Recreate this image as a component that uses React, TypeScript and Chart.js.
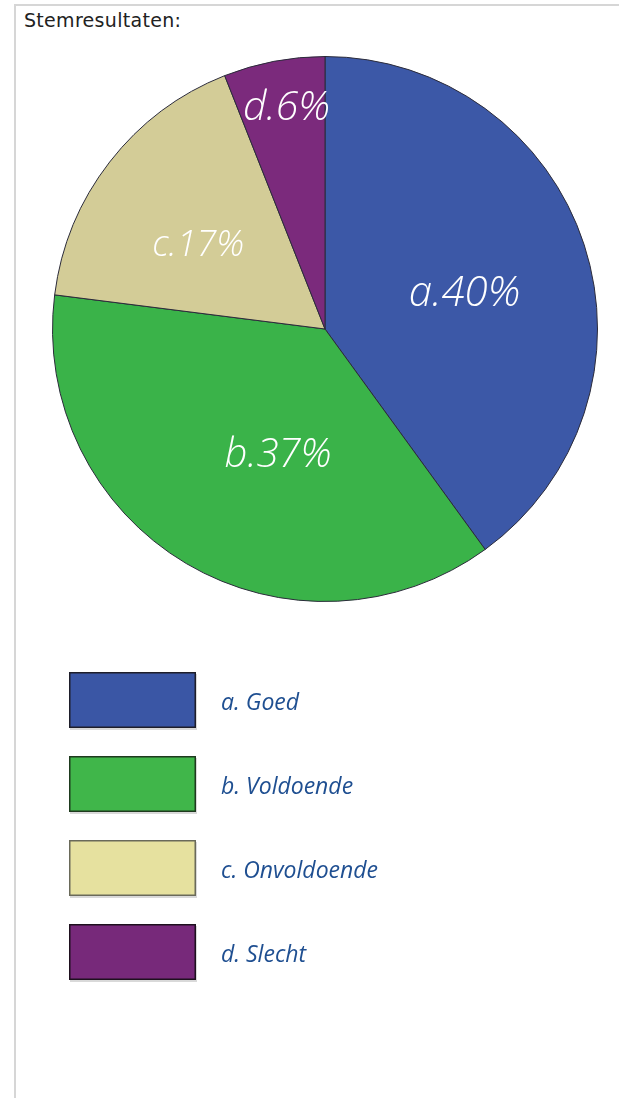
import React, { useEffect, useRef } from "react";
import { Chart, registerables } from "chart.js";

Chart.register(...registerables);

const categories = ["a. Goed", "b. Voldoende", "c. Onvoldoende", "d. Slecht"];
const shortLabels = ["a", "b", "c", "d"];
const values = [40, 37, 17, 6];
const sliceColors = ["#3c58a7", "#3ab349", "#d3cc97", "#7b2a7c"];
const legendColors = ["#3a56a5", "#40b64a", "#e6e19f", "#77297a"];
const legendBorders = ["#1e1e2a", "#1e3a1e", "#6a6a5a", "#1e101e"];

// label placement relative to each slice (radius fraction, angle offset in degrees, font size)
const labelPlacement = [
  { r: 0.53, dA: 3, size: 42 },
  { r: 0.49, dA: -10, size: 40 },
  { r: 0.56, dA: -4, size: 36 },
  { r: 0.83, dA: 1, size: 41 },
];

const sliceLabelPlugin = {
  id: "sliceLabels",
  afterDatasetsDraw(chart: any) {
    const ctx = chart.ctx;
    const meta = chart.getDatasetMeta(0);
    ctx.save();
    meta.data.forEach((arc: any, i: number) => {
      const { x, y, startAngle, endAngle, outerRadius } = arc.getProps(
        ["x", "y", "startAngle", "endAngle", "outerRadius"],
        true
      );
      const p = labelPlacement[i];
      const mid = (startAngle + endAngle) / 2 + (p.dA * Math.PI) / 180;
      const rr = outerRadius * p.r;
      const lx = x + Math.cos(mid) * rr;
      const ly = y + Math.sin(mid) * rr;
      ctx.font = `italic 300 ${p.size}px "Open Sans", sans-serif`;
      ctx.fillStyle = "#ffffff";
      ctx.textAlign = "center";
      ctx.textBaseline = "middle";
      ctx.fillText(`${shortLabels[i]}.${values[i]}%`, lx, ly + 2);
    });
    ctx.restore();
  },
};

const boxLegendPlugin = {
  id: "boxLegend",
  afterDraw(chart: any) {
    const ctx = chart.ctx;
    const left = 69;
    const top = 672;
    const w = 127;
    const h = 56;
    const step = 84;
    ctx.save();
    categories.forEach((cat, i) => {
      const y = top + i * step;
      ctx.fillStyle = "rgba(0,0,0,0.15)";
      ctx.fillRect(left + 1, y + 2, w, h);
      ctx.fillStyle = legendColors[i];
      ctx.fillRect(left, y, w, h);
      ctx.lineWidth = 1.5;
      ctx.strokeStyle = legendBorders[i];
      ctx.strokeRect(left + 0.75, y + 0.75, w - 1.5, h - 1.5);
      ctx.font = 'italic 400 23px "Open Sans", sans-serif';
      ctx.fillStyle = "#1f4f91";
      ctx.textAlign = "left";
      ctx.textBaseline = "middle";
      ctx.fillText(cat, 221, y + h / 2 + 3);
    });
    ctx.restore();
  },
};

export default function App() {
  const canvasRef = useRef<HTMLCanvasElement>(null);

  useEffect(() => {
    if (!canvasRef.current) return;
    const chart = new Chart(canvasRef.current, {
      type: "pie",
      data: {
        labels: categories,
        datasets: [
          {
            data: values,
            backgroundColor: sliceColors,
            borderColor: "#2b2b3a",
            borderWidth: 1,
            hoverOffset: 0,
          },
        ],
      },
      options: {
        responsive: false,
        animation: false,
        layout: { padding: { left: 52, right: 21, top: 56, bottom: 496 } },
        plugins: {
          legend: { display: false },
          tooltip: { enabled: false },
          title: { display: false },
        },
      },
      plugins: [sliceLabelPlugin, boxLegendPlugin],
    });
    return () => chart.destroy();
  }, []);

  return (
    <div
      style={{
        position: "absolute",
        left: 0,
        top: 0,
        width: 619,
        height: 1098,
        overflow: "hidden",
        background: "#ffffff",
      }}
    >
      <div
        style={{
          position: "absolute",
          left: 14,
          top: 4,
          width: 800,
          height: 1200,
          borderTop: "2px solid #d6d6d6",
          borderLeft: "2px solid #d6d6d6",
        }}
      />
      <div
        style={{
          position: "absolute",
          left: 24,
          top: 9,
          fontFamily: '"DejaVu Sans", Verdana, sans-serif',
          fontSize: 19,
          letterSpacing: 0.3,
          color: "#222",
          whiteSpace: "nowrap",
        }}
      >
        Stemresultaten:
      </div>
      <canvas
        ref={canvasRef}
        width={619}
        height={1098}
        style={{ position: "absolute", left: 0, top: 0, width: 619, height: 1098 }}
      />
    </div>
  );
}
